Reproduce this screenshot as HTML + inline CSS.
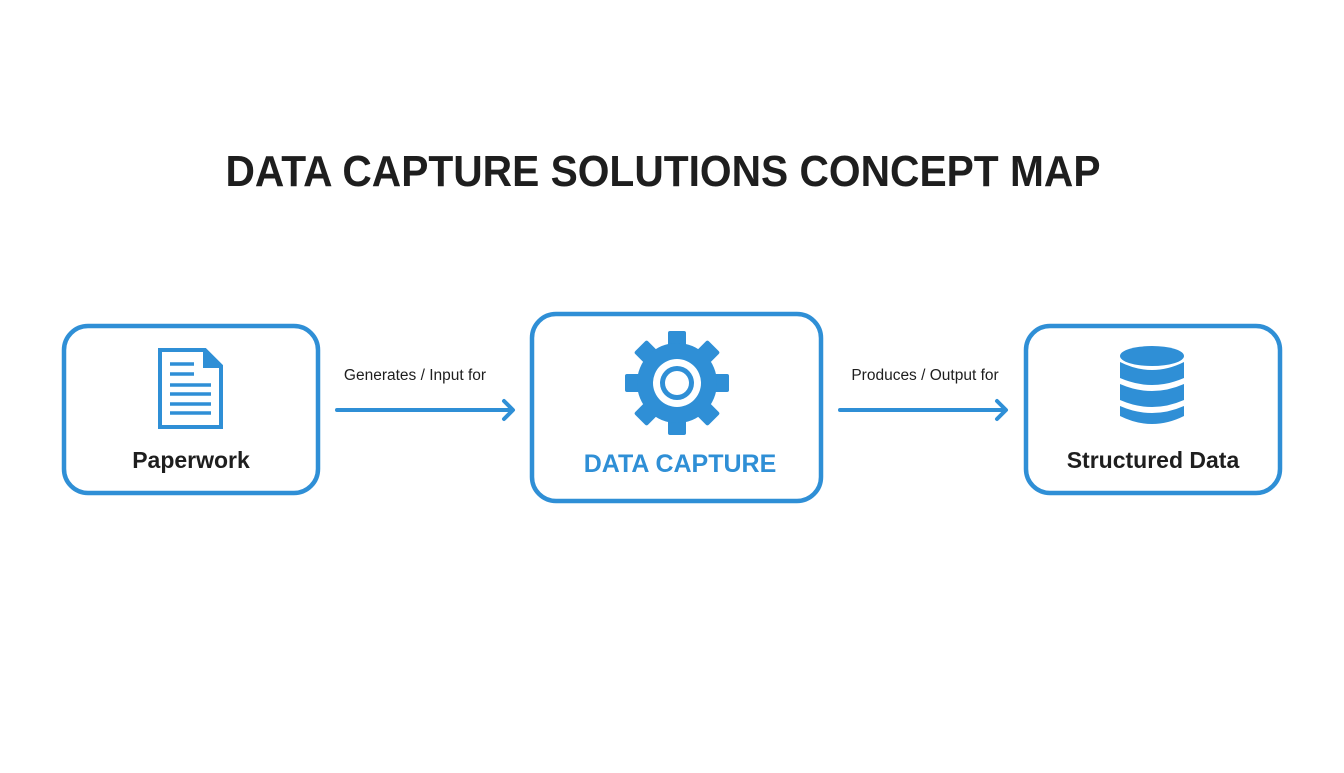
<!DOCTYPE html>
<html><head><meta charset="utf-8"><style>html,body{margin:0;padding:0;background:#fff}</style></head>
<body>
<svg width="1344" height="768" viewBox="0 0 1344 768" xmlns="http://www.w3.org/2000/svg" font-family="Liberation Sans, sans-serif">
<rect width="1344" height="768" fill="#fff"/>
<text x="663" y="186" text-anchor="middle" font-size="44" font-weight="bold" fill="#1e1e1e" textLength="875" lengthAdjust="spacingAndGlyphs">DATA CAPTURE SOLUTIONS CONCEPT MAP</text>
<g fill="none" stroke="#2f8fd6" stroke-width="4.5">
<rect x="64" y="326" width="254" height="167" rx="24"/>
<rect x="532" y="314" width="289" height="187" rx="24"/>
<rect x="1026" y="326" width="254" height="167" rx="24"/>
</g>
<!-- doc icon -->
<path d="M160 350 H205 L221 366 V427 H160 Z" fill="none" stroke="#2f8fd6" stroke-width="4"/>
<path d="M203 350 L221 368 H203 Z" fill="#2f8fd6"/>
<g stroke="#2f8fd6" stroke-width="3.5">
<line x1="170" y1="364" x2="194" y2="364"/><line x1="170" y1="374" x2="194" y2="374"/>
<line x1="170" y1="385" x2="211" y2="385"/><line x1="170" y1="394" x2="211" y2="394"/>
<line x1="170" y1="404" x2="211" y2="404"/><line x1="170" y1="413" x2="211" y2="413"/>
</g>
<text x="191" y="468" text-anchor="middle" font-size="23" font-weight="bold" fill="#1e1e1e">Paperwork</text>
<!-- gear -->
<g transform="translate(677,383)" fill="#2f8fd6">
<g id="t"><rect x="-9" y="-52" width="18" height="20" rx="2"/></g>
<use href="#t" transform="rotate(45)"/><use href="#t" transform="rotate(90)"/><use href="#t" transform="rotate(135)"/>
<use href="#t" transform="rotate(180)"/><use href="#t" transform="rotate(225)"/><use href="#t" transform="rotate(270)"/><use href="#t" transform="rotate(315)"/>
<circle r="40"/>
<circle r="24" fill="#fff"/>
<circle r="17" fill="#2f8fd6"/>
<circle r="12" fill="#fff"/>
</g>
<text x="680" y="472" text-anchor="middle" font-size="25" font-weight="bold" fill="#2f8fd6">DATA CAPTURE</text>
<!-- db -->
<g fill="#2f8fd6">
<ellipse cx="1152" cy="356" rx="32" ry="10"/>
<path d="M1120 362 Q1152 378 1184 362 V378 Q1152 392 1120 378 Z"/>
<path d="M1120 384 Q1152 398 1184 384 V400 Q1152 414 1120 400 Z"/>
<path d="M1120 406 Q1152 420 1184 406 V416 Q1152 432 1120 416 Z"/>
</g>
<text x="1153" y="468" text-anchor="middle" font-size="23" font-weight="bold" fill="#1e1e1e">Structured Data</text>
<!-- arrows -->
<g stroke="#2f8fd6" stroke-width="4" fill="none" stroke-linecap="round" stroke-linejoin="round">
<line x1="337" y1="410" x2="512" y2="410"/><polyline points="504,401 513,410 504,419"/>
<line x1="840" y1="410" x2="1005" y2="410"/><polyline points="997,401 1006,410 997,419"/>
</g>
<text x="415" y="380" text-anchor="middle" font-size="15.5" fill="#1e1e1e">Generates / Input for</text>
<text x="925" y="380" text-anchor="middle" font-size="15.5" fill="#1e1e1e">Produces / Output for</text>
</svg>
</body></html>
